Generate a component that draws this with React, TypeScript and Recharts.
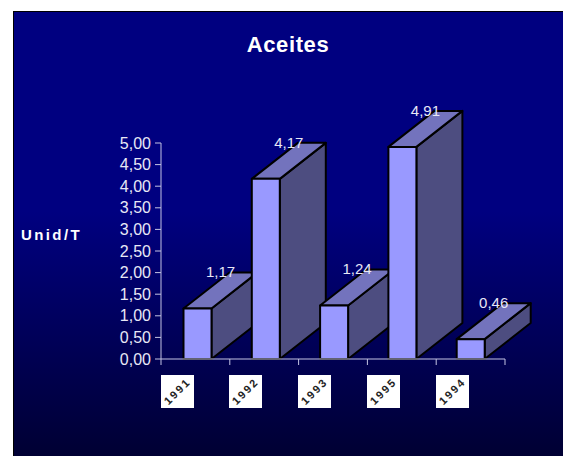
import { BarChart, Bar, XAxis, YAxis } from "recharts";

const years = ["1991", "1992", "1993", "1995", "1994"];
const values = [1.17, 4.17, 1.24, 4.91, 0.46];
const yTicks = [0, 0.5, 1, 1.5, 2, 2.5, 3, 3.5, 4, 4.5, 5];

const chartData = years.map((year, i) => ({ year, value: values[i] }));

const depthX = 46;
const depthY = 36;
const axisLeft = 161;
const tickStep = 68.8;
const axisColor = "#c4c4e4";
const labelColor = "#e8e8f6";
const fontFamily = "'Liberation Sans', Arial, sans-serif";

const comma = (v: number) => v.toFixed(2).replace(".", ",");

// 3d box: front, top and side faces hung off the rectangle recharts gives us
const Box = ({ x, y, width, height }: any) => {
  const r = x + width;
  const b = y + height;
  return (
    <g stroke="#000" strokeWidth={2} strokeLinejoin="round">
      <path
        d={`M${r} ${y}L${r + depthX} ${y - depthY}V${b - depthY}L${r} ${b}Z`}
        fill="#4d4d80"
      />
      <path
        d={`M${x} ${y}L${x + depthX} ${y - depthY}H${r + depthX}L${r} ${y}Z`}
        fill="#7373bd"
      />
      <rect x={x} y={y} width={width} height={height} fill="#9999ff" />
    </g>
  );
};

const ValueLabel = ({ x, y, width, value }: any) => (
  <text
    x={x + width / 2 + depthX / 2}
    y={y - depthY + 5}
    textAnchor="middle"
    fill={labelColor}
    fontSize={15}
    fontFamily={fontFamily}
  >
    {comma(value)}
  </text>
);

// the year labels are small white tiles with rotated text, ticks sit on the band edges
const YearTick = ({ payload, index }: any) => {
  const left = axisLeft + index * tickStep;
  const tileX = Math.floor(left);
  const tileY = 375;
  return (
    <g>
      <line x1={left} x2={left} y1={359} y2={365} stroke={axisColor} />
      {index === years.length - 1 && (
        <line
          x1={left + tickStep}
          x2={left + tickStep}
          y1={359}
          y2={365}
          stroke={axisColor}
        />
      )}
      <rect x={tileX} y={tileY} width={33} height={33} fill="#fff" />
      <text
        x={tileX + 16.5}
        y={tileY + 20}
        textAnchor="middle"
        fontSize={11}
        fontWeight="bold"
        letterSpacing={2}
        fontFamily={fontFamily}
        fill="#222"
        transform={`rotate(-45 ${tileX + 16.5} ${tileY + 16.5})`}
      >
        {payload.value}
      </text>
    </g>
  );
};

export default function App() {
  return (
    <div
      style={{
        position: "absolute",
        left: 0,
        top: 0,
        width: 563,
        height: 456,
        background: "#fff",
        overflow: "hidden",
      }}
    >
      <div
        style={{
          position: "absolute",
          left: 13,
          top: 11,
          width: 550,
          height: 445,
          borderTop: "1px solid #000",
          borderLeft: "1px solid #000",
          boxSizing: "border-box",
          background: "linear-gradient(180deg, #000080 0%, #000080 45%, #000033 100%)",
        }}
      />
      <div
        style={{
          position: "absolute",
          left: 188,
          width: 200,
          top: 32,
          textAlign: "center",
          color: "#fff",
          letterSpacing: 0.6,
          font: `bold 22px ${fontFamily}`,
        }}
      >
        Aceites
      </div>
      <div
        style={{
          position: "absolute",
          left: 21,
          top: 226,
          color: "#fff",
          letterSpacing: 2.4,
          font: `bold 15px ${fontFamily}`,
        }}
      >
        Unid/T
      </div>
      <div style={{ position: "absolute", left: 0, top: 0 }}>
        <BarChart
          width={563}
          height={456}
          data={chartData}
          margin={{ top: 143, right: 58, bottom: 0, left: 0 }}
          barCategoryGap={0}
        >
          <XAxis
            dataKey="year"
            height={97}
            padding={{ left: 2.5, right: 0 }}
            axisLine={{ stroke: axisColor }}
            tickLine={false}
            tick={<YearTick />}
            interval={0}
          />
          <YAxis
            width={161}
            domain={[0, 5]}
            ticks={yTicks}
            interval={0}
            tickFormatter={comma}
            axisLine={{ stroke: axisColor }}
            tickLine={{ stroke: axisColor }}
            tickSize={6}
            tickMargin={4}
            tick={{ fill: labelColor, fontSize: 16, fontFamily }}
          />
          <Bar
            dataKey="value"
            barSize={28}
            shape={<Box />}
            label={<ValueLabel />}
            isAnimationActive={false}
          />
        </BarChart>
      </div>
    </div>
  );
}
